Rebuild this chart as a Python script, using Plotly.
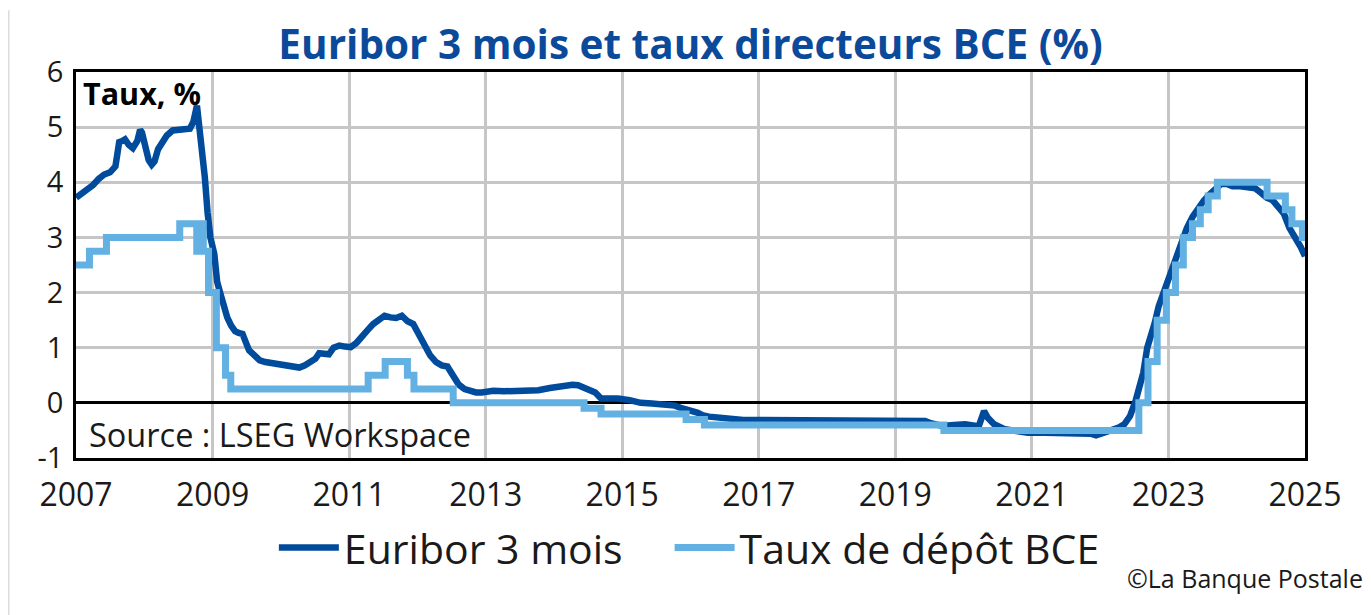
import plotly.graph_objects as go

# ---- Data ----
euribor_dates = [
    "2007-01-02", "2007-02-01", "2007-03-01", "2007-04-02", "2007-05-02", "2007-06-01",
    "2007-07-02", "2007-07-31", "2007-08-10", "2007-08-20", "2007-09-05", "2007-09-20",
    "2007-10-10", "2007-11-01", "2007-11-25", "2007-12-10", "2007-12-20", "2008-01-05",
    "2008-01-25", "2008-02-10", "2008-02-25", "2008-03-15", "2008-04-10", "2008-05-01",
    "2008-06-01", "2008-07-01", "2008-08-01", "2008-09-01", "2008-09-20", "2008-10-09",
    "2008-10-20", "2008-11-05", "2008-11-20", "2008-12-05", "2008-12-20", "2009-01-10",
    "2009-01-25", "2009-02-10", "2009-03-01", "2009-03-20", "2009-04-10", "2009-05-01",
    "2009-05-20", "2009-06-10", "2009-06-25", "2009-07-15", "2009-08-10", "2009-09-10",
    "2009-10-10", "2009-11-10", "2009-12-10", "2010-01-10", "2010-02-10", "2010-03-10",
    "2010-04-10", "2010-05-10", "2010-06-10", "2010-07-05", "2010-07-25", "2010-08-15",
    "2010-09-15", "2010-10-10", "2010-11-10", "2010-12-10", "2011-01-10", "2011-02-10",
    "2011-03-10", "2011-04-10", "2011-05-10", "2011-06-10", "2011-07-10", "2011-08-10",
    "2011-09-10", "2011-10-10", "2011-11-10", "2011-12-10", "2012-01-10", "2012-02-10",
    "2012-03-10", "2012-04-10", "2012-05-10", "2012-06-10", "2012-07-10", "2012-08-10",
    "2012-09-10", "2012-10-10", "2012-11-10", "2012-12-10", "2013-02-10", "2013-04-10",
    "2013-06-10", "2013-08-10", "2013-10-10", "2013-12-10", "2014-01-10", "2014-03-10",
    "2014-04-10", "2014-05-10", "2014-06-10", "2014-07-10", "2014-08-10", "2014-09-10",
    "2014-10-10", "2014-12-10", "2015-02-10", "2015-04-10", "2015-06-10", "2015-08-10",
    "2015-10-10", "2015-11-10", "2015-12-10", "2016-01-10", "2016-02-10", "2016-03-10",
    "2016-04-10", "2016-06-10", "2016-08-10", "2016-10-10", "2016-12-10", "2017-06-10",
    "2017-12-10", "2018-06-10", "2018-12-10", "2019-03-10", "2019-05-10", "2019-06-10",
    "2019-07-10", "2019-08-10", "2019-09-10", "2019-11-10", "2020-01-10", "2020-03-10",
    "2020-03-25", "2020-04-20", "2020-05-10", "2020-06-10", "2020-07-10", "2020-08-10",
    "2020-10-10", "2020-12-10", "2021-03-10", "2021-06-10", "2021-09-10", "2021-11-10",
    "2021-12-10", "2022-01-10", "2022-02-10", "2022-03-10", "2022-04-10", "2022-05-10",
    "2022-06-10", "2022-07-10", "2022-08-01", "2022-08-20", "2022-09-10", "2022-10-01",
    "2022-10-20", "2022-11-10", "2022-12-01", "2022-12-20", "2023-01-10", "2023-02-10",
    "2023-03-10", "2023-04-10", "2023-05-10", "2023-06-10", "2023-07-10", "2023-08-10",
    "2023-09-10", "2023-10-10", "2023-11-10", "2023-12-10", "2024-01-10", "2024-02-10",
    "2024-03-10", "2024-04-10", "2024-05-10", "2024-06-10", "2024-07-10", "2024-08-10",
    "2024-09-10", "2024-10-10", "2024-11-10", "2024-12-10", "2025-01-01",
]
euribor_values = [
    3.72, 3.79, 3.87, 3.95, 4.06, 4.14,
    4.18, 4.29, 4.51, 4.73, 4.75, 4.78,
    4.68, 4.62, 4.75, 4.95, 4.90, 4.70,
    4.40, 4.32, 4.38, 4.60, 4.76, 4.85,
    4.94, 4.96, 4.96, 4.97, 5.10, 5.39,
    5.10, 4.60, 4.10, 3.45, 3.00, 2.70,
    2.20, 2.00, 1.75, 1.55, 1.40, 1.30,
    1.27, 1.25, 1.12, 0.95, 0.87, 0.77,
    0.74, 0.72, 0.71, 0.68, 0.66, 0.64,
    0.64, 0.68, 0.73, 0.80, 0.90, 0.90,
    0.88, 1.00, 1.04, 1.02, 1.01, 1.09,
    1.18, 1.32, 1.43, 1.49, 1.58, 1.55,
    1.54, 1.58, 1.48, 1.43, 1.22, 1.05,
    0.86, 0.74, 0.68, 0.66, 0.50, 0.33,
    0.25, 0.21, 0.19, 0.19, 0.22, 0.21,
    0.21, 0.23, 0.23, 0.27, 0.29, 0.31,
    0.33, 0.32, 0.27, 0.21, 0.19, 0.08,
    0.08, 0.08, 0.05, 0.00, -0.01, -0.03,
    -0.05, -0.09, -0.13, -0.15, -0.18, -0.23,
    -0.25, -0.27, -0.30, -0.31, -0.31, -0.31,
    -0.31, -0.31, -0.31, -0.31, -0.31, -0.33,
    -0.37, -0.41, -0.42, -0.40, -0.39, -0.42,
    -0.40, -0.15, -0.27, -0.38, -0.44, -0.48,
    -0.51, -0.54, -0.54, -0.54, -0.55, -0.56,
    -0.59, -0.56, -0.53, -0.50, -0.45, -0.39,
    -0.24, 0.04, 0.30, 0.55, 1.00, 1.20,
    1.45, 1.75, 1.95, 2.15, 2.40, 2.65,
    2.91, 3.17, 3.37, 3.54, 3.67, 3.78,
    3.88, 3.97, 3.97, 3.93, 3.93, 3.92,
    3.92, 3.89, 3.81, 3.72, 3.68, 3.55,
    3.43, 3.17, 3.01, 2.82, 2.66,
]

deposit_dates = [
    "2007-01-01", "2007-03-14", "2007-06-13", "2008-07-09", "2008-10-08", "2008-10-09",
    "2008-11-12", "2008-12-10", "2009-01-21", "2009-03-11", "2009-04-08", "2011-04-13",
    "2011-07-13", "2011-11-09", "2011-12-14", "2012-07-11", "2014-06-11", "2014-09-10",
    "2015-12-09", "2016-03-16", "2019-09-18", "2022-07-27", "2022-09-14", "2022-11-02",
    "2022-12-21", "2023-02-08", "2023-03-22", "2023-05-10", "2023-06-21", "2023-08-02",
    "2023-09-20", "2024-06-12", "2024-09-18", "2024-10-23", "2024-12-18", "2025-01-01",
]
deposit_values = [
    2.50, 2.75, 3.00, 3.25, 2.75, 3.25,
    2.75, 2.00, 1.00, 0.50, 0.25, 0.50,
    0.75, 0.50, 0.25, 0.00, -0.10, -0.20,
    -0.30, -0.40, -0.50, 0.00, 0.75, 1.50,
    2.00, 2.50, 3.00, 3.25, 3.50, 3.75,
    4.00, 3.75, 3.50, 3.25, 3.00, 3.00,
]

x_tick_years = ["2007", "2009", "2011", "2013", "2015", "2017", "2019", "2021", "2023", "2025"]
y_ticks = [-1, 0, 1, 2, 3, 4, 5, 6]

series_names = ["Euribor 3 mois", "Taux de dépôt BCE"]
title_text = "Euribor 3 mois et taux directeurs BCE (%)"

# ---- Figure ----
DARK = "#004b9c"
LIGHT = "#62b1e2"
FONT = "Open Sans"

fig = go.Figure()
fig.add_trace(go.Scatter(
    x=euribor_dates, y=euribor_values, mode="lines", name=series_names[0],
    line=dict(color=DARK, width=6.5), legend="legend",
))
fig.add_trace(go.Scatter(
    x=deposit_dates, y=deposit_values, mode="lines", name=series_names[1],
    line=dict(color=LIGHT, width=7, shape="hv"), legend="legend2",
))

legend_style = dict(
    orientation="h", xanchor="left", y=-0.233, yanchor="middle",
    font=dict(family=FONT, size=41, color="#1a1a1a"),
    itemwidth=60, bgcolor="rgba(0,0,0,0)",
)

fig.update_layout(
    width=1371, height=615,
    margin=dict(l=68, r=74, t=64, b=165),
    paper_bgcolor="white", plot_bgcolor="white",
    font=dict(family=FONT, color="#1a1a1a"),
    title=dict(
        text=f"<b>{title_text}</b>",
        x=0.5, xref="paper", xanchor="center",
        y=1 - 37 / 615, yref="container", yanchor="middle",
        font=dict(family=FONT, size=40.5, color="#0b4a9a"),
    ),
    showlegend=True,
    legend=dict(x=0.161, **legend_style),
    legend2=dict(x=0.483, **legend_style),
    xaxis=dict(
        type="date",
        range=[f"{x_tick_years[0]}-01-01", f"{x_tick_years[-1]}-01-01"],
        tickmode="array",
        tickvals=[f"{y}-01-01" for y in x_tick_years],
        ticktext=x_tick_years,
        showgrid=True, gridcolor="#c6c6c6", gridwidth=2.5,
        showline=True, linecolor="black", linewidth=2.5, mirror=True,
        ticks="", ticklabelstandoff=7,
        tickfont=dict(family=FONT, size=32, color="#1a1a1a"),
        zeroline=False,
    ),
    yaxis=dict(
        range=[-1, 6], tickmode="array", tickvals=y_ticks,
        ticktext=[str(v) for v in y_ticks],
        showgrid=True, gridcolor="#c6c6c6", gridwidth=2.5,
        showline=True, linecolor="black", linewidth=2.5, mirror=True,
        zeroline=True, zerolinecolor="black", zerolinewidth=2.5,
        ticks="", ticklabelstandoff=4,
        tickfont=dict(family=FONT, size=29, color="#1a1a1a"),
    ),
    annotations=[
        dict(text="<b>Taux, %</b>", xref="paper", yref="paper", x=0.004, y=0.946,
             xanchor="left", yanchor="middle", showarrow=False,
             font=dict(family=FONT, size=30.5, color="black")),
        dict(text="Source : LSEG Workspace", xref="paper", yref="paper", x=0.009, y=0.06,
             xanchor="left", yanchor="middle", showarrow=False,
             font=dict(family=FONT, size=32.5, color="#1a1a1a")),
        dict(text="©La Banque Postale", xref="paper", yref="paper", x=1.049, y=-0.311,
             xanchor="right", yanchor="middle", showarrow=False,
             font=dict(family=FONT, size=25, color="#1a1a1a")),
    ],
    shapes=[
        dict(type="line", xref="paper", yref="paper",
             x0=-0.0549, x1=-0.0549, y0=1.16, y1=-0.43,
             line=dict(color="#dcdcdc", width=2)),
    ],
)

fig.write_html("out.html")
